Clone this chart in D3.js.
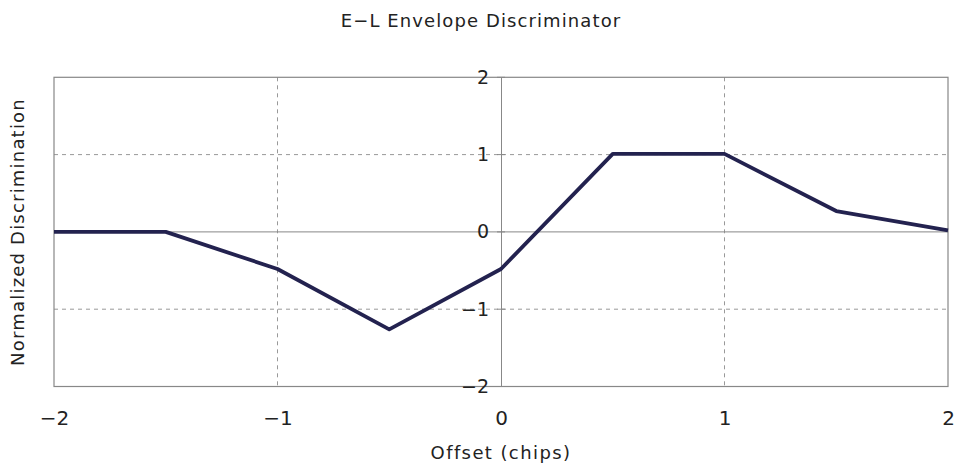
<!DOCTYPE html>
<html><head><meta charset="utf-8">
<script src="https://cdn.jsdelivr.net/npm/d3@7/dist/d3.min.js"></script>
<style>body{margin:0;background:#fff}</style>
</head><body>
<svg id="c" width="960" height="466"></svg>
<script>
const offsets = [-2, -1.5, -1, -0.5, 0, 0.5, 1, 1.5, 2];
const discrimination = [0, 0, -0.48, -1.26, -0.48, 1.01, 1.01, 0.27, 0.02];
const xTicks = [-2, -1, 0, 1, 2];
const yTicks = [-2, -1, 0, 1, 2];
const title = "E\u2212L Envelope Discriminator";
const xLabel = "Offset (chips)";
const yLabel = "Normalized Discrimination";

const svg = d3.select("#c");
const font = "'DejaVu Sans',sans-serif";
const L = 54, R = 948, T = 77.3, B = 386.5;
const x = d3.scaleLinear().domain([-2, 2]).range([L, R]);
const y = d3.scaleLinear().domain([-2, 2]).range([B, T]);
const fmt = d => d < 0 ? "\u2212" + Math.abs(d) : String(d);

// gridlines
svg.append("g").selectAll("line").data(yTicks.filter(v => v === 1 || v === -1)).join("line")
  .attr("x1", L).attr("x2", R).attr("y1", d => y(d)).attr("y2", d => y(d))
  .attr("stroke", "#999").attr("stroke-width", 1).attr("stroke-dasharray", "4,4");
svg.append("g").selectAll("line").data(xTicks.filter(v => v === 1 || v === -1)).join("line")
  .attr("y1", T).attr("y2", B).attr("x1", d => x(d)).attr("x2", d => x(d))
  .attr("stroke", "#999").attr("stroke-width", 1).attr("stroke-dasharray", "4,4");
// zero line
svg.append("line").attr("x1", L).attr("x2", R).attr("y1", y(0)).attr("y2", y(0))
  .attr("stroke", "#888").attr("stroke-width", 1);
// frame
svg.append("rect").attr("x", L).attr("y", T).attr("width", R - L).attr("height", B - T)
  .attr("fill", "none").attr("stroke", "#888").attr("stroke-width", 1.2);

// y axis at x=0
const yAxis = d3.axisLeft(y).tickValues(yTicks).tickSize(0).tickPadding(12).tickFormat(fmt);
const gy = svg.append("g").attr("transform", `translate(${x(0)},0)`).call(yAxis);
gy.select(".domain").attr("stroke", "#888");
gy.selectAll("text").attr("font-family", font).attr("font-size", 19).attr("fill", "#222");
// small crossing ticks
svg.append("g").selectAll("line").data(yTicks).join("line")
  .attr("x1", x(0) - 4).attr("x2", x(0) + 4).attr("y1", d => y(d)).attr("y2", d => y(d))
  .attr("stroke", "#888");

// x axis labels
const xAxis = d3.axisBottom(x).tickValues(xTicks).tickSize(0).tickPadding(24).tickFormat(fmt);
const gx = svg.append("g").attr("transform", `translate(0,${B})`).call(xAxis);
gx.select(".domain").remove();
gx.selectAll("text").attr("font-family", font).attr("font-size", 20).attr("fill", "#222");

// line
const line = d3.line().x((d, i) => x(offsets[i])).y(d => y(d));
svg.append("path").datum(discrimination).attr("d", line)
  .attr("fill", "none").attr("stroke", "#23224f").attr("stroke-width", 3.8)
  .attr("stroke-linejoin", "round");

// titles
svg.append("text").attr("x", 481).attr("y", 27).attr("text-anchor", "middle")
  .attr("font-family", font).attr("font-size", 18).attr("letter-spacing", 1.1).attr("fill", "#222").text(title);
svg.append("text").attr("x", 501).attr("y", 459).attr("text-anchor", "middle")
  .attr("font-family", font).attr("font-size", 18).attr("letter-spacing", 1.4).attr("fill", "#222").text(xLabel);
svg.append("text").attr("transform", "translate(24,232) rotate(-90)").attr("text-anchor", "middle")
  .attr("font-family", font).attr("font-size", 18).attr("letter-spacing", 1.2).attr("fill", "#222").text(yLabel);
</script>
</body></html>
